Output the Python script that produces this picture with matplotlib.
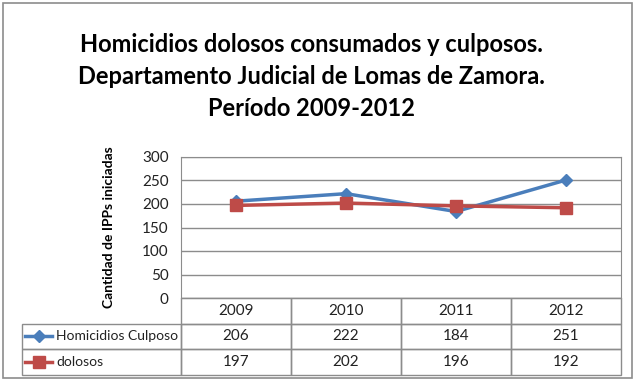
import matplotlib.pyplot as plt
from matplotlib.lines import Line2D
from matplotlib.patches import Rectangle

years = ['2009', '2010', '2011', '2012']
culposos = [206, 222, 184, 251]
dolosos = [197, 202, 196, 192]
series_names = ['Homicidios Culposo', 'dolosos']
yticks = [0, 50, 100, 150, 200, 250, 300]

blue = '#4A7EBB'
red = '#BE4B48'
grid = '#8C8C8C'
font = 'Lato'

W, H = 636, 382
fig = plt.figure(figsize=(W / 100, H / 100), dpi=100)

# outer frame of the chart
fig.patches.append(Rectangle((3 / W, 4 / H), 629 / W, 375 / H, transform=fig.transFigure,
                             fill=False, edgecolor='#8C8C8C', linewidth=1.2))

# plot area in pixels: x 181..621, y 157..298
ax = fig.add_axes([181 / W, 1 - 298 / H, 440 / W, 141 / H])
x = range(len(years))
ax.plot(x, culposos, color=blue, linewidth=2.5, marker='D', markersize=6.5, zorder=3)
ax.plot(x, dolosos, color=red, linewidth=2.5, marker='s', markersize=8, zorder=3)
ax.set_xlim(-0.5, len(years) - 0.5)
ax.set_ylim(0, 300)
ax.set_yticks(yticks)
ax.set_xticks([])
ax.grid(axis='y', color=grid, linewidth=1)
ax.set_axisbelow(True)
for s in ax.spines.values():
    s.set_color(grid)
ax.tick_params(axis='y', length=0, pad=9, labelsize=11, labelcolor='#222222')
for lab in ax.get_yticklabels():
    lab.set_fontfamily(font)
ax.set_ylabel('Cantidad de IPPs iniciadas', fontsize=10, fontweight='bold', family=font,
              labelpad=19)

# data table below the plot area: x 22..621, y 298..375
cell_text = [[''] + years,
             [series_names[0]] + [str(v) for v in culposos],
             [series_names[1]] + [str(v) for v in dolosos]]
tw = 599
tbl = ax.table(cellText=cell_text, colWidths=[159 / tw] + [110 / tw] * 4, cellLoc='center',
               bbox=[(22 - 181) / 440, -77 / 141, tw / 440, 77 / 141])
tbl.auto_set_font_size(False)
tbl.set_fontsize(11)
for (r, c), cell in tbl.get_celld().items():
    cell.set_edgecolor(grid)
    cell.set_facecolor('none')
    cell.set_linewidth(1)
    cell.get_text().set_fontfamily(font)
    cell.get_text().set_color('#222222')
    if c == 0:
        cell.get_text().set_ha('left')
        cell.get_text().set_fontsize(10)
        cell.PAD = 34 / 159
    if r == 0 and c == 0:
        cell.visible_edges = ''

# legend keys inside the table's label column
for yc, col, mk, ms in [(336, blue, 'D', 6.5), (362, red, 's', 8)]:
    fig.add_artist(Line2D([25 / W, 52 / W], [1 - yc / H, 1 - yc / H], color=col,
                          linewidth=2.5, transform=fig.transFigure))
    fig.add_artist(Line2D([38.5 / W], [1 - yc / H], color=col, marker=mk, markersize=ms,
                          transform=fig.transFigure))

titles = ['Homicidios dolosos consumados y culposos.',
          'Departamento Judicial de Lomas de Zamora.',
          'Período 2009-2012']
for i, t in enumerate(titles):
    fig.text(311 / W, 1 - (45 + 31.5 * i) / H, t, ha='center', va='center',
             fontsize=17, fontweight='bold', family=font, color='black')

fig.savefig('out.png', dpi=100)
